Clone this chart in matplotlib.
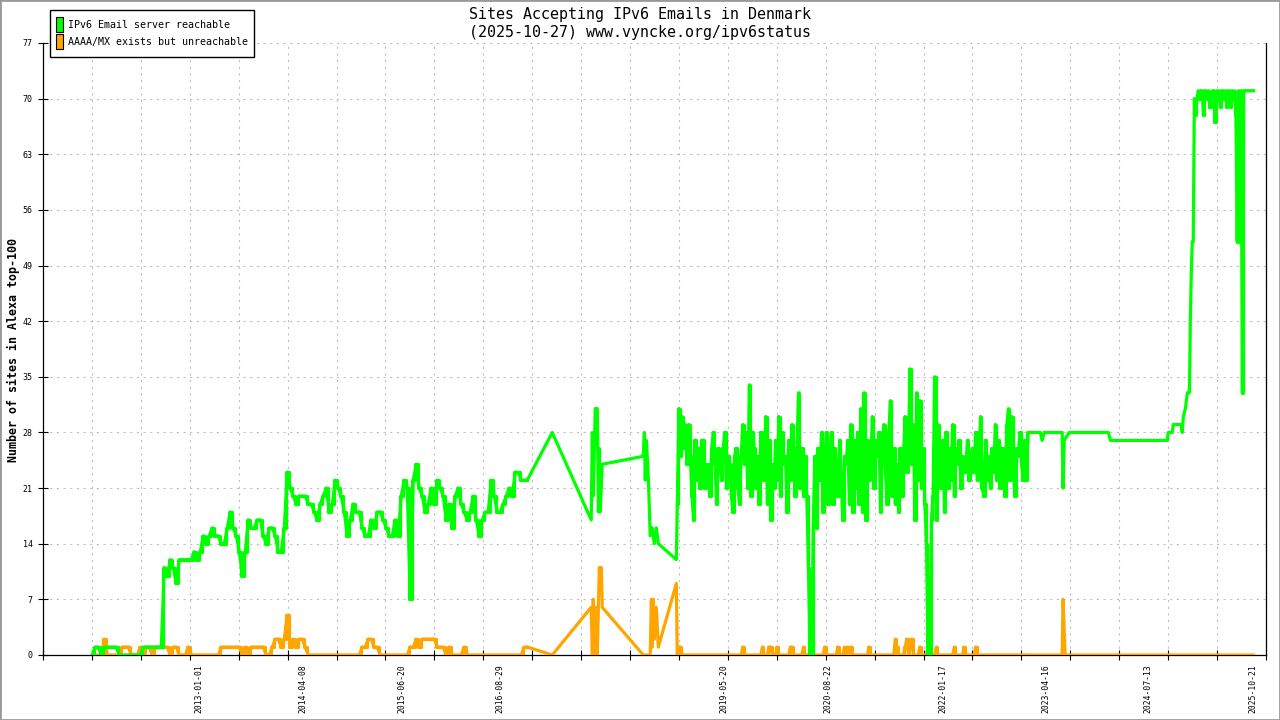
import numpy as np
import pandas as pd
import matplotlib
matplotlib.use("Agg")
import matplotlib.pyplot as plt
import matplotlib.dates as mdates
from matplotlib.patches import Rectangle

# COLOURS / FONT
GREEN = "#00ff00"
ORANGE = "#ffa500"
MONO = "DejaVu Sans Mono"

# EARLY PERIOD 2011-09 .. 2016-12 (regular samples)
early_start, early_end = "2011-09-14", "2016-12-27"
early_ok = [0, 1, 1, 0, 1, 1, 1, 1, 1, 0,
            0, 0, 0, 0, 0, 0, 0, 1, 1, 1,
            1, 1, 1, 1, 11, 10, 12, 11, 9, 12,
            12, 12, 12, 12, 13, 12, 13, 15, 14, 15,
            16, 15, 15, 14, 14, 16, 18, 16, 15, 13,
            10, 13, 17, 16, 16, 17, 17, 15, 14, 16,
            16, 15, 13, 13, 16, 23, 21, 20, 19, 20,
            20, 20, 19, 19, 18, 17, 19, 20, 21, 18,
            19, 22, 21, 20, 18, 15, 17, 19, 18, 18,
            16, 15, 15, 17, 16, 18, 18, 17, 16, 15,
            15, 17, 15, 20, 22, 21, 7, 22, 24, 21,
            20, 18, 19, 21, 19, 22, 21, 20, 17, 19,
            16, 20, 21, 19, 18, 17, 18, 20, 17, 15,
            17, 18, 18, 22, 20, 18, 18, 19, 20, 21,
            20, 23, 23, 22, 22, 22]
early_bad = [0, 0, 0, 0, 2, 0, 0, 0, 0, 0,
             1, 1, 1, 0, 0, 0, 1, 0, 1, 1,
             0, 1, 1, 1, 1, 1, 0, 1, 1, 0,
             0, 0, 1, 0, 0, 0, 0, 0, 0, 0,
             0, 0, 0, 1, 1, 1, 1, 1, 1, 1,
             0, 1, 0, 1, 1, 1, 1, 1, 0, 0,
             1, 2, 2, 1, 2, 5, 1, 2, 1, 2,
             2, 1, 0, 0, 0, 0, 0, 0, 0, 0,
             0, 0, 0, 0, 0, 0, 0, 0, 0, 0,
             1, 1, 2, 2, 1, 1, 0, 0, 0, 0,
             0, 0, 0, 0, 0, 0, 1, 1, 2, 1,
             2, 2, 2, 2, 2, 1, 1, 1, 0, 1,
             0, 0, 0, 0, 1, 0, 0, 0, 0, 0,
             0, 0, 0, 0, 0, 0, 0, 0, 0, 0,
             0, 0, 0, 0, 1, 1]

# SPARSE PERIOD 2017-2018
sparse_ok_dates = ["2017-04-17", "2017-10-07", "2017-10-12", "2017-10-16", "2017-10-25",
                   "2017-11-03", "2017-11-08", "2017-11-12", "2017-11-16", "2017-11-25",
                   "2018-05-26", "2018-05-31", "2018-06-04", "2018-06-09", "2018-06-18",
                   "2018-06-26", "2018-07-05", "2018-07-14", "2018-07-23", "2018-08-01",
                   "2018-10-20"]
sparse_ok = [28, 17, 28, 20, 31, 31, 18, 26, 18, 24,
             25, 28, 22, 27, 22, 15, 16, 14, 16, 14, 12]
sparse_bad_dates = ["2017-04-17", "2017-10-07", "2017-10-12", "2017-10-16", "2017-10-25",
                    "2017-10-29", "2017-11-03", "2017-11-12", "2017-11-21", "2017-11-25",
                    "2018-05-26", "2018-06-26", "2018-07-01", "2018-07-05", "2018-07-10",
                    "2018-07-14", "2018-07-23", "2018-08-01", "2018-10-20"]
sparse_bad = [0, 6, 0, 7, 0, 6, 0, 11, 11, 6,
              0, 0, 7, 1, 7, 2, 6, 1, 9]

# DENSE PERIOD 2018-10 .. 2023-01 (regular samples)
dense_start, dense_end = "2018-10-24", "2023-01-29"
dense_ok = [19, 31, 25, 30, 26, 29, 24, 29, 25, 20, 17, 27,
            22, 26, 21, 27, 27, 21, 24, 22, 20, 26, 28, 24,
            19, 26, 24, 22, 26, 28, 21, 25, 24, 20, 18, 25,
            26, 21, 19, 25, 29, 24, 28, 21, 34, 20,
            28, 26, 21, 25, 19, 28, 24, 22, 30, 19, 27, 17,
            24, 21, 27, 22, 30, 20, 28, 24, 25, 18, 27, 22,
            29, 24, 20, 26, 33, 21, 26, 20, 25, 20,
            11, 0, 0, 17, 25, 16, 26, 22, 28, 18,
            25, 28, 19, 24, 28, 19, 26, 24, 20, 27, 22, 17,
            25, 24, 27, 19, 29, 18, 27, 21, 28, 19, 31, 18,
            33, 17, 27, 22, 24, 30, 21, 27, 25, 28, 18, 25,
            29, 23, 19, 28, 32, 20, 26, 19, 24, 18, 26, 20,
            25, 30, 23, 26, 36, 24, 29, 17, 33, 22,
            32, 21, 26, 19, 14, 0, 0, 17, 20, 35, 17, 29,
            25, 21, 27, 18, 28, 21, 26, 22, 29, 20, 26, 24,
            27, 21, 25, 23, 24, 27, 22, 25, 26, 23, 28, 22,
            24, 30, 21, 20, 27, 22, 25, 21, 26, 23, 29, 22,
            27, 21, 26, 24, 20, 29, 31, 22, 30, 23, 20, 26,
            25, 28, 24, 22, 27, 22, 28]
dense_bad = [0, 1, 1, 0, 0, 0, 0, 0, 0, 0, 0, 0, 0, 0, 0, 0, 0, 0, 0, 0,
             0, 0, 0, 0, 0, 0, 0, 0, 0, 0, 0, 0, 0, 0, 0, 0, 0, 0, 0, 0,
             1, 0, 0, 0, 0, 0, 0, 0, 0, 0, 0, 0, 1, 0, 0, 0, 1, 1, 0, 0,
             0, 1, 0, 0, 0, 0, 0, 0, 0, 1, 1, 0, 0, 0, 0, 0, 0, 1, 0, 0,
             0, 0, 0, 0, 0, 0, 0, 0, 0, 0, 1, 0, 0, 0, 0, 0, 0, 0, 1, 0,
             0, 0, 1, 0, 1, 0, 1, 0, 0, 0, 0, 0, 0, 0, 0, 0, 0, 1, 0, 0,
             0, 0, 0, 0, 0, 0, 0, 0, 0, 0, 0, 0, 0, 2, 1, 0, 0, 0, 0, 1,
             2, 0, 1, 2, 0, 0, 0, 0, 1, 0, 0, 0, 0, 1, 0, 0, 0, 0, 1, 0,
             0, 0, 0, 0, 0, 0, 0, 0, 0, 1, 0, 0, 0, 0, 0, 1, 0, 0, 0, 0,
             0, 0, 1, 0, 0, 0, 0, 0, 0, 0, 0, 0, 0, 0, 0, 0, 0, 0, 0, 0,
             0, 0, 0, 0, 0, 0, 0, 0, 0, 0, 0, 0, 0, 0, 0]

# LATE PERIOD 2023 .. 2025
late_ok_dates = ["2023-02-08", "2023-03-24", "2023-04-01", "2023-04-10", "2023-06-29",
                 "2023-07-03", "2023-07-08", "2023-07-30", "2024-01-20", "2024-01-29",
                 "2024-10-08", "2024-10-12", "2024-10-30", "2024-11-03", "2024-12-09",
                 "2024-12-13", "2024-12-18", "2024-12-27", "2025-01-05", "2025-01-14",
                 "2025-01-18", "2025-01-23", "2025-01-27", "2025-01-31"]
late_ok = [28, 28, 27, 28, 28, 21, 27, 28, 28, 27,
           27, 28, 28, 29, 29, 28, 30, 31, 33, 33,
           42, 49, 52, 52]
top_start, top_end = "2025-02-05", "2025-09-12"
top_ok = [70, 68, 70, 71, 70, 71, 71, 68, 71, 71, 70, 71, 69, 70, 71, 71,
          67, 71, 70, 71, 69, 71, 71, 70, 71, 69, 71, 71, 69, 71, 70, 71,
          68, 52, 71, 52, 71, 33, 71]
last_date, last_ok = "2025-10-26", 71
late_bad_dates = ["2023-06-29", "2023-07-03", "2023-07-08", "2023-07-12", "2025-10-26"]
late_bad = [0, 7, 3, 0, 0]

# AXIS LABELS
label_dates = ["2013-01-01", "2014-04-08", "2015-06-20", "2016-08-29", "2019-05-20",
               "2020-08-22", "2022-01-17", "2023-04-16", "2024-07-13", "2025-10-21"]
y_ticks = list(range(0, 78, 7))
x_from, x_to = "2011-02-07", "2025-12-20"

# BUILD SERIES
early_ok_s = pd.Series(early_ok, index=pd.date_range(early_start, early_end, periods=len(early_ok)))
early_bad_s = pd.Series(early_bad, index=pd.date_range(early_start, early_end, periods=len(early_bad)))
dense_ok_s = pd.Series(dense_ok, index=pd.date_range(dense_start, dense_end, periods=len(dense_ok)))
dense_bad_s = pd.Series(dense_bad, index=pd.date_range(dense_start, dense_end, periods=len(dense_bad)))
top_ok_s = pd.Series(top_ok, index=pd.date_range(top_start, top_end, periods=len(top_ok)))

ok = pd.concat([
    early_ok_s,
    pd.Series(sparse_ok, index=pd.to_datetime(sparse_ok_dates)),
    dense_ok_s,
    pd.Series(late_ok, index=pd.to_datetime(late_ok_dates)),
    top_ok_s,
    pd.Series([last_ok], index=pd.to_datetime([last_date])),
])
bad = pd.concat([
    early_bad_s,
    pd.Series(sparse_bad, index=pd.to_datetime(sparse_bad_dates)),
    dense_bad_s,
    pd.Series(late_bad, index=pd.to_datetime(late_bad_dates)),
])

# PLOT
fig = plt.figure(figsize=(12.8, 7.2), dpi=100)
ax = fig.add_axes([43 / 1280, 65 / 720, 1223 / 1280, 612 / 720])

LW = 2.3
ax.plot(bad.index, bad.values, color=ORANGE, lw=LW, zorder=3)
for s in [early_bad_s, dense_bad_s]:
    ax.plot(s.index, s.values, color=ORANGE, lw=LW, drawstyle="steps-mid", zorder=3)
ax.plot(ok.index, ok.values, color=GREEN, lw=LW, zorder=4)
for s in [early_ok_s, dense_ok_s, top_ok_s]:
    ax.plot(s.index, s.values, color=GREEN, lw=LW, drawstyle="steps-mid", zorder=4)

x0 = mdates.date2num(pd.Timestamp(x_from))
x1 = mdates.date2num(pd.Timestamp(x_to))
ax.set_xlim(x0, x1)
ax.set_ylim(0, 77)

ax.set_yticks(y_ticks)
ax.set_yticklabels([str(v) for v in y_ticks], fontfamily=MONO, fontsize=6)
ax.set_xticks(mdates.date2num(pd.to_datetime(label_dates)))
ax.set_xticklabels(label_dates, rotation=90, fontfamily=MONO, fontsize=5.8)
ax.set_xticks(np.linspace(x0, x1, 26), minor=True)
ax.tick_params(axis="x", which="major", length=0, pad=7)
ax.tick_params(axis="x", which="minor", direction="inout", length=7, width=0.8)
ax.tick_params(axis="y", direction="inout", length=7, width=0.8, pad=4)

ax.grid(which="minor", axis="x", color="#c0c0c0", ls=(0, (2, 4)), lw=0.8)
ax.grid(which="major", axis="y", color="#c0c0c0", ls=(0, (2, 4)), lw=0.8)
ax.set_axisbelow(True)
ax.spines["top"].set_visible(False)
for s in ["left", "bottom", "right"]:
    ax.spines[s].set_linewidth(0.9)

# TITLE AND Y LABEL
fig.text(0.5, 1 - 14 / 720, "Sites Accepting IPv6 Emails in Denmark",
         ha="center", va="center", fontfamily=MONO, fontsize=10.8)
fig.text(0.5, 1 - 32 / 720, "(2025-10-27) www.vyncke.org/ipv6status",
         ha="center", va="center", fontfamily=MONO, fontsize=10.8)
fig.text(13 / 1280, 1 - 350 / 720, "Number of sites in Alexa top-100", rotation=90,
         ha="center", va="center", fontfamily=MONO, fontsize=8.4, fontweight="bold")

# LEGEND
W, H = 1280.0, 720.0
fig.add_artist(Rectangle((50 / W, 1 - 57 / H), 204 / W, 47 / H, transform=fig.transFigure,
                         facecolor="white", edgecolor="black", lw=1, zorder=10))
for i, (lab, col) in enumerate([("IPv6 Email server reachable", GREEN),
                                 ("AAAA/MX exists but unreachable", ORANGE)]):
    top = 17 + i * 17
    fig.add_artist(Rectangle((56 / W, 1 - (top + 15) / H), 7 / W, 15 / H,
                             transform=fig.transFigure, facecolor=col,
                             edgecolor="black", lw=0.8, zorder=11))
    fig.text(68 / W, 1 - (top + 8) / H, lab, ha="left", va="center",
             fontfamily=MONO, fontsize=7.2, zorder=12)

# FRAME
fig.add_artist(Rectangle((0, 0), 1, 1, transform=fig.transFigure, fill=False,
                         edgecolor="#999999", lw=2))

plt.savefig("out.png", dpi=100)
